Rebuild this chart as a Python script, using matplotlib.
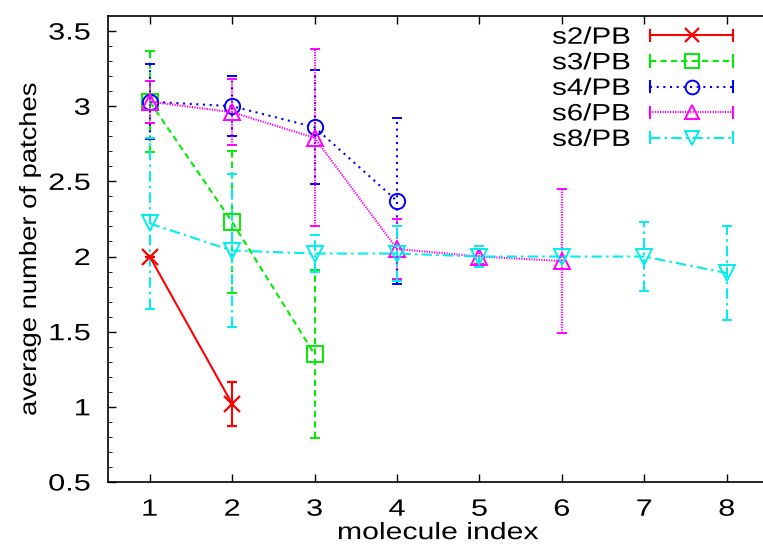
import matplotlib

matplotlib.use("Agg")
import matplotlib.pyplot as plt
from matplotlib.legend_handler import HandlerLine2D
from matplotlib.lines import Line2D
from matplotlib.patheffects import AbstractPathEffect
from matplotlib.transforms import Affine2D

plt.rcParams["font.family"] = ["Liberation Sans", "DejaVu Sans"]

LABELS = ["s2/PB", "s3/PB", "s4/PB", "s6/PB", "s8/PB"]

S2_X = [1, 2]
S2_Y = [2.00, 1.02]
S2_E = [0.0, 0.145]

S3_X = [1, 2, 3]
S3_Y = [3.03, 2.23, 1.35]
S3_E = [0.335, 0.475, 0.56]

S4_X = [1, 2, 3, 4]
S4_Y = [3.03, 3.00, 2.86, 2.37]
S4_E = [0.25, 0.20, 0.38, 0.55]

S6_X = [1, 2, 3, 4, 5, 6]
S6_Y = [3.03, 2.96, 2.79, 2.05, 2.00, 1.97]
S6_E = [0.14, 0.22, 0.59, 0.20, 0.05, 0.48]

S8_X = [1, 2, 3, 4, 5, 6, 7, 8]
S8_Y = [2.22, 2.04, 2.02, 2.02, 2.00, 2.00, 2.00, 1.89]
S8_E = [0.57, 0.51, 0.12, 0.18, 0.07, 0.0, 0.23, 0.31]

SERIES = [
    (S2_X, S2_Y, S2_E),
    (S3_X, S3_Y, S3_E),
    (S4_X, S4_Y, S4_E),
    (S6_X, S6_Y, S6_E),
    (S8_X, S8_Y, S8_E),
]
STYLES = [
    dict(color="#ff0000", ls="-", marker="x", ms=11, mew=1.6),
    dict(color="#00ee00", ls=(0, (3, 2)), marker="s", ms=11, mew=1.4),
    dict(color="#0000ff", ls=(0, (1, 2.2)), marker="o", ms=11, mew=1.4),
    dict(color="#ff00ff", ls=(0, (0.6, 0.6)), marker="^", ms=11, mew=1.4),
    dict(color="#00eeee", ls=(0, (5, 2, 1.2, 2)), marker="v", ms=11, mew=1.4),
]
FS = 17


class Widen(AbstractPathEffect):
    """Stretch glyphs sideways (the reference font runs wide)."""

    def __init__(self, sx, anchor=0.5):
        super().__init__()
        self.sx, self.anchor = sx, anchor

    def draw_path(self, renderer, gc, tpath, affine, rgbFace=None):
        ext = tpath.get_extents()
        x0 = ext.x0 + self.anchor * ext.width
        pre = Affine2D().translate(-x0, 0).scale(self.sx, 1).translate(x0, 0)
        renderer.draw_path(gc, tpath, pre + affine, rgbFace)


class CapHandler(HandlerLine2D):
    """Legend line with gnuplot-style end caps."""

    def create_artists(self, legend, orig, xd, yd, width, height, fontsize, trans):
        arts = super().create_artists(legend, orig, xd, yd, width, height,
                                      fontsize, trans)
        y = height / 2 - yd
        for x in (-xd, width - xd):
            cap = Line2D([x, x], [y - 4, y + 4], color=orig.get_color(),
                         lw=1.5, transform=trans)
            arts.append(cap)
        return arts


def main() -> None:
    fig = plt.figure(figsize=(7.63, 5.5), dpi=100)
    ax = fig.add_axes([0.1422, 0.1236, 0.8643, 0.8473])
    handles = []
    for (xs, ys, es), st in zip(SERIES, STYLES):
        eb = ax.errorbar(xs, ys, yerr=es, color=st["color"], ls=st["ls"],
                         lw=1.5, marker=st["marker"], ms=st["ms"],
                         mew=st["mew"], mfc="none", capsize=3.5,
                         elinewidth=1.5, capthick=1.5)
        for lc in eb[2]:
            lc.set_linestyle(st["ls"])
        h = Line2D([], [], color=st["color"], ls=st["ls"], lw=1.5,
                   marker=st["marker"], ms=st["ms"] * 0.9, mew=st["mew"],
                   mfc="none")
        handles.append(h)

    ax.set_xlim(0.5, 8.5)
    ax.set_ylim(0.5, 3.6)
    ax.set_xticks(range(1, 9))
    ax.set_yticks([0.5, 1, 1.5, 2, 2.5, 3, 3.5])
    ax.set_yticklabels(["0.5", "1", "1.5", "2", "2.5", "3", "3.5"])
    ax.set_yticks([v / 10 for v in range(5, 36)], minor=True)
    ax.tick_params(direction="in", top=True, right=False, labelsize=FS,
                   length=6, width=1)
    ax.tick_params(which="minor", direction="in", right=False, length=3)
    ax.tick_params(axis="x", pad=12)
    ax.tick_params(axis="y", pad=13)
    for sp in ax.spines.values():
        sp.set_linewidth(1.2)
    xl = ax.set_xlabel("molecule index", fontsize=FS, labelpad=1)
    yl = ax.set_ylabel("average number of patches", fontsize=FS, labelpad=12)
    xl.set_path_effects([Widen(1.28)])
    yl.set_path_effects([Widen(1.16)])
    for t in ax.get_xticklabels():
        t.set_path_effects([Widen(1.3)])
    for t in ax.get_yticklabels():
        t.set_path_effects([Widen(1.3, anchor=1.0)])

    leg = ax.legend(handles, LABELS, loc="upper right",
                    bbox_to_anchor=(0.947, 0.977), borderpad=0,
                    borderaxespad=0, frameon=False, fontsize=FS,
                    markerfirst=False, handlelength=3.5, handletextpad=0.85,
                    labelspacing=0.15, handler_map={Line2D: CapHandler()})
    for t in leg.get_texts():
        t.set_path_effects([Widen(1.25, anchor=1.0)])

    fig.savefig("out.png", dpi=100)


if __name__ == "__main__":
    main()
